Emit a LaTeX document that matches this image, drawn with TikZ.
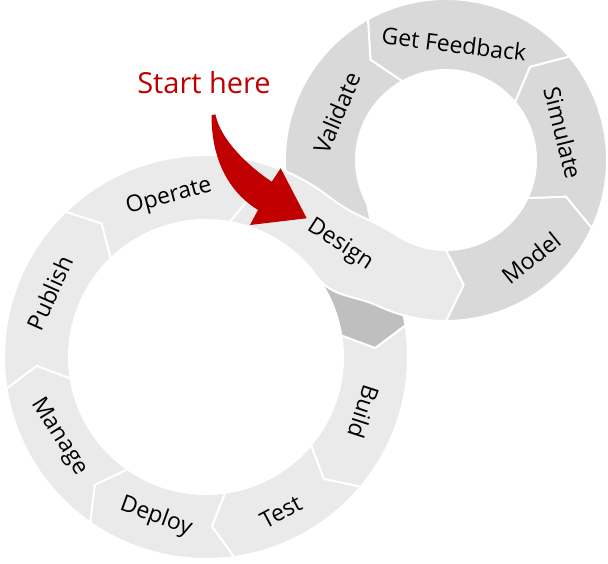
\documentclass[tikz,border=0pt]{standalone}
\usepackage{fontspec}
\setmainfont{Open Sans}
\usetikzlibrary{calc}

\definecolor{ringlight}{HTML}{EAEAEA}
\definecolor{ringmid}{HTML}{D9D9D9}
\definecolor{ringdark}{HTML}{BFBFBF}
\definecolor{startred}{HTML}{C00000}

% ring piece: centre, inner r, outer r, from, to, tip shift, colour
\newcommand{\ringpiece}[7]{%
  \filldraw[piece, fill=#7] ([shift={(#4:#3)}]#1) arc[start angle=#4, end angle=#5, radius=#3]
    -- ([shift={({#5+#6}:{(#2+#3)/2})}]#1) -- ([shift={(#5:#2)}]#1)
    arc[start angle=#5, end angle=#4, radius=#2]
    -- ([shift={({#4+#6}:{(#2+#3)/2})}]#1) -- cycle;}

\begin{document}
\begin{tikzpicture}[x=1pt, y=1pt,
    piece/.style={draw=white, line width=2pt, line join=round},
    stage/.style={font=\fontsize{23}{26}\selectfont, inner sep=0pt}]

    \path[use as bounding box, fill=white] (0,0) rectangle (608,564);
    \coordinate (L) at (206,207);
    \coordinate (R) at (446,404);

    % left loop
    \foreach \a/\b/\c in {80/9/ringdark, 9/-40/ringlight, -40/-82/ringlight, -82/-125/ringlight,
        -125/-171/ringlight, -171/-226/ringlight, 134/80/ringlight}
      \ringpiece{L}{137}{202}{\a}{\b}{-6}{\c};

    % right loop
    \foreach \a/\b in {-90/-25, -25/40, 40/119, 119/236}
      \ringpiece{R}{90}{161}{\a}{\b}{8}{ringmid};
    \fill[white] ([shift={(206:90)}]R) -- ([shift={(219:98)}]R) -- ([shift={(226:112)}]R)
      -- ([shift={(250:70)}]R) -- cycle;

    % design band between the loops
    \filldraw[piece, fill=ringlight] ([shift={(80:202)}]L) arc[start angle=80, end angle=52, radius=202]
      to[out=-38, in=147] ([shift={(-123:90)}]R) arc[start angle=-123, end angle=-90, radius=90]
      -- ([shift={(-82:126.5)}]R) -- ([shift={(-90:161)}]R) arc[start angle=-90, end angle=-115, radius=161]
      to[out=155, in=-54] ([shift={(36:137)}]L) arc[start angle=36, end angle=80, radius=137]
      -- ([shift={(74:169.5)}]L) -- cycle;

    % red arrow
    \fill[startred] (211.5,449) .. controls (211.5,400) and (232,370) .. (258,354)
      -- (250,339) -- (306.7,345.7) -- (280.7,395.7) -- (271.7,382.3)
      .. controls (248,398) and (220,425) .. (215.5,449.5) -- cycle;

    \node[font=\fontsize{29}{34}\selectfont, text=startred, inner sep=0pt] (start) at (204,481) {Start here};

    \node[stage, rotate=15] (operate) at ([shift={(103:164)}]L) {Operate};
    \node[stage, rotate=66] (publish) at ([shift={(157.7:168.6)}]L) {Publish};
    \node[stage, rotate=-58] (manage) at ([shift={(208.6:167)}]L) {Manage};
    \node[stage, rotate=-20] (deploy) at ([shift={(252.6:167.6)}]L) {Deploy};
    \node[stage, rotate=28] (test) at ([shift={(295.8:172)}]L) {Test};
    \node[stage, rotate=-108] (build) at ([shift={(-19.2:167)}]L) {Build};
    \node[stage, rotate=-33] (design) at ([shift={(39.9:174.6)}]L) {Design};
    \node[stage, rotate=39] (model) at ([shift={(-49:129.7)}]R) {Model};
    \node[stage, rotate=-76] (simulate) at ([shift={(13:120)}]R) {Simulate};
    \node[stage, rotate=-7] (feedback) at ([shift={(86:116.3)}]R) {Get Feedback};
    \node[stage, rotate=67] (validate) at ([shift={(156.7:118.7)}]R) {Validate};
\end{tikzpicture}
\end{document}
